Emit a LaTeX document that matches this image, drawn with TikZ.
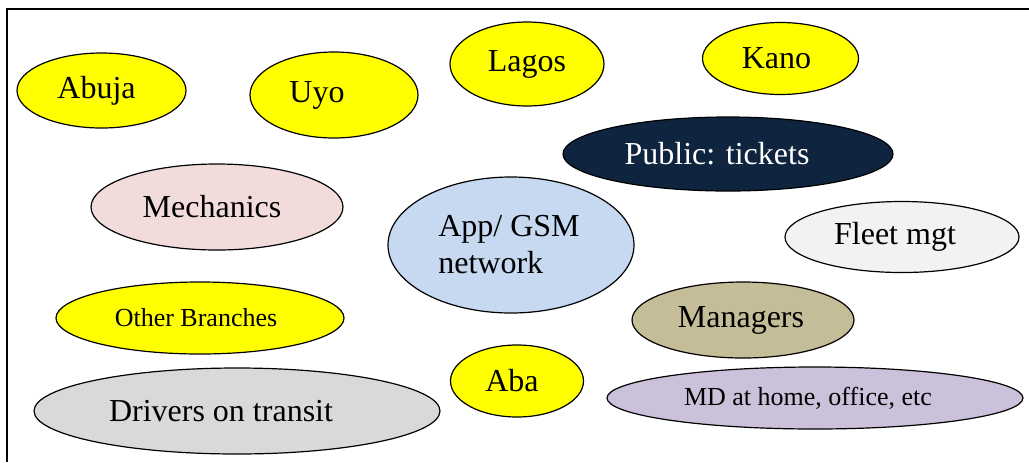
\documentclass[tikz,border=0pt]{standalone}
\usepackage{fontspec}
\setmainfont{Liberation Serif}
\usetikzlibrary{shapes.geometric}
\definecolor{navy}{HTML}{0F243E}
\definecolor{rose}{HTML}{F2DCDB}
\definecolor{sky}{HTML}{C6D9F1}
\definecolor{paper}{HTML}{F2F2F2}
\definecolor{khaki}{HTML}{C4BD97}
\definecolor{ash}{HTML}{D9D9D9}
\definecolor{lilac}{HTML}{CCC1DA}
\definecolor{lemon}{RGB}{255,255,0}
\tikzset{place/.style={ellipse, inner sep=0pt, outer sep=0pt, draw=black, line width=0.6pt}}
\tikzset{city/.style={place, fill=lemon}}
\tikzset{big_text/.style={font=\fontsize{16}{18.5}\selectfont}}
\tikzset{small_text/.style={font=\fontsize{13}{15}\selectfont}}

\begin{document}
\begin{tikzpicture}[x=0.5pt,y=-0.5pt]
    \useasboundingbox (0,0) rectangle (1029,462);
    \draw[line width=1pt] (7,462) -- (7,8.5) -- (1029,8.5);
    % branches
    \node[city,minimum width=84.5pt,minimum height=37.5pt] (abuja) at (101.5,90.5) {};
    \node[city,minimum width=84pt,minimum height=43pt] (uyo) at (334,95) {};
    \node[city,minimum width=77pt,minimum height=42pt] (lagos) at (527,64) {};
    \node[city,minimum width=78pt,minimum height=36pt] (kano) at (780.5,58.5) {};
    \node[city,minimum width=144pt,minimum height=36pt] (other) at (200,318) {};
    \node[city,minimum width=66.5pt,minimum height=36pt] (aba) at (517,381) {};
    % users
    \node[place,fill=navy,minimum width=165pt,minimum height=37pt] (public) at (728,154) {};
    \node[place,fill=rose,minimum width=126pt,minimum height=43pt] (mech) at (217,207) {};
    \node[place,fill=sky,minimum width=123pt,minimum height=68pt] (app) at (511,245) {};
    \node[place,fill=paper,minimum width=117pt,minimum height=35.5pt] (fleet) at (902,237) {};
    \node[place,fill=khaki,minimum width=111pt,minimum height=38pt] (mgr) at (743,320) {};
    \node[place,fill=ash,minimum width=203pt,minimum height=43pt] (drivers) at (237,411) {};
    \node[place,fill=lilac,minimum width=208pt,minimum height=31pt] (md) at (815,398) {};
    % texts
    \node[big_text] (t_abuja) at ([xshift=-2.5pt]abuja.center) {Abuja};
    \node[big_text] (t_uyo) at ([xshift=-8.5pt]uyo.center) {Uyo};
    \node[big_text] (t_lagos) at (lagos.center) {Lagos};
    \node[big_text] (t_kano) at ([xshift=-2pt]kano.center) {Kano};
    \node[small_text] (t_other) at ([xshift=-2pt]other.center) {Other Branches};
    \node[big_text] (t_aba) at ([xshift=-2.5pt]aba.center) {Aba};
    \node[big_text,text=white] (t_public) at ([xshift=-5.5pt]public.center) {Public: tickets};
    \node[big_text] (t_mech) at ([xshift=-2.5pt]mech.center) {Mechanics};
    \node[big_text,align=left] (t_app) at ([xshift=-1pt]app.center) {App/ GSM\\network};
    \node[big_text] (t_fleet) at ([xshift=-3.5pt]fleet.center) {Fleet mgt};
    \node[big_text] (t_mgr) at ([xshift=-1pt]mgr.center) {Managers};
    \node[big_text] (t_drivers) at ([xshift=-8pt]drivers.center) {Drivers on transit};
    \node[small_text] (t_md) at ([xshift=-3.5pt]md.center) {MD at home, office, etc};
\end{tikzpicture}
\end{document}
